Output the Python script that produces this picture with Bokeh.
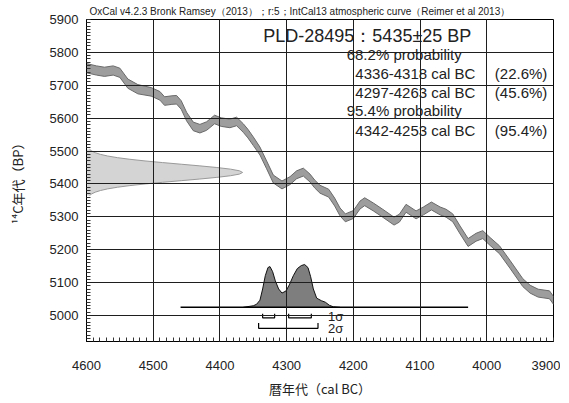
from bokeh.plotting import figure
from bokeh.models import Range1d, Label, FixedTicker, Title
from bokeh.embed import file_html
from bokeh.resources import INLINE

# ---------------- data ----------------
cal_years = [4600, 4585, 4573, 4560, 4550, 4538, 4523, 4503, 4490, 4483, 4472, 4465,
             4458, 4450, 4440, 4430, 4420, 4408, 4398, 4385, 4375, 4365, 4358, 4350,
             4340, 4330, 4320, 4307, 4295, 4285, 4275, 4265, 4258, 4250, 4237, 4228,
             4220, 4212, 4200, 4190, 4183, 4170, 4156, 4139, 4131, 4121, 4106, 4095,
             4083, 4070, 4061, 4051, 4040, 4028, 4016, 4006, 3995, 3981, 3965, 3946,
             3935, 3923, 3906, 3900]
cal_bp = [5752, 5745, 5741, 5745, 5738, 5705, 5688, 5680, 5668, 5652, 5655, 5656,
          5640, 5605, 5575, 5568, 5576, 5596, 5588, 5584, 5590, 5570, 5553, 5530,
          5500, 5458, 5415, 5397, 5410, 5428, 5436, 5418, 5400, 5384, 5372, 5345,
          5315, 5297, 5307, 5336, 5346, 5330, 5311, 5287, 5296, 5326, 5306, 5318,
          5333, 5318, 5311, 5297, 5260, 5222, 5238, 5246, 5225, 5200, 5155, 5100,
          5080, 5068, 5063, 5046]
cal_err = [14, 14, 14, 14, 14, 14, 14, 13, 13, 13, 13, 13,
           13, 13, 13, 13, 13, 13, 13, 13, 13, 13, 13, 13,
           12, 12, 12, 12, 12, 12, 12, 12, 12, 12, 12, 12,
           12, 12, 12, 12, 12, 12, 12, 12, 12, 12, 12, 12,
           12, 12, 12, 12, 12, 12, 12, 12, 12, 12, 12, 12,
           12, 12, 12, 12]

# radiocarbon date 5435 +/- 25 BP : relative density read from the left-hand profile
c14_bp = [5365, 5370, 5375, 5380, 5385, 5390, 5395, 5400, 5405, 5410, 5415, 5420,
          5425, 5430, 5435, 5440, 5445, 5450, 5455, 5460, 5465, 5470, 5475, 5480,
          5485, 5490, 5495, 5500, 5505]
c14_density = [0.02, 0.034, 0.056, 0.089, 0.135, 0.198, 0.278, 0.375, 0.487, 0.607,
               0.726, 0.835, 0.923, 0.98, 1.0, 0.98, 0.923, 0.835, 0.726, 0.607,
               0.487, 0.375, 0.278, 0.198, 0.135, 0.089, 0.056, 0.034, 0.02]

# calibrated probability distribution (relative)
post_years = [4365, 4355, 4350, 4345, 4340, 4336, 4332, 4328, 4325, 4321, 4317, 4312,
              4307, 4301, 4296, 4290, 4284, 4278, 4273, 4268, 4264, 4260, 4255, 4248,
              4242, 4236, 4230, 4220]
post_prob = [0, 1, 1.5, 3, 7, 18, 31, 39, 40, 35, 26, 18,
             14, 16, 22, 31, 38, 41, 42, 39, 30, 18, 9, 6.5,
             5, 2, 0.5, 0]

sigma1_ranges = [(4336, 4318), (4297, 4263)]
sigma2_ranges = [(4342, 4253)]

x_ticks = [4600, 4500, 4400, 4300, 4200, 4100, 4000, 3900]
y_ticks = [5000, 5100, 5200, 5300, 5400, 5500, 5600, 5700, 5800, 5900]

header = "OxCal v4.2.3 Bronk Ramsey（2013）；r:5；IntCal13 atmospheric curve（Reimer et al 2013）"

# ---------------- figure ----------------
LAT = "Liberation Sans"
JP = "Noto Sans CJK JP"

p = figure(frame_width=467, frame_height=322, output_backend="svg", toolbar_location=None,
           x_range=Range1d(4600, 3900), y_range=Range1d(4921, 5900),
           min_border_left=86, min_border_right=7, min_border_top=19,
           min_border_bottom=50, title=None)
p.background_fill_color = "white"
p.border_fill_color = "white"
p.outline_line_color = "black"
p.outline_line_width = 1

t = Title(text=header, text_font=LAT, text_font_size="10px", text_font_style="normal",
          text_color="#222222", align="left", offset=3, standoff=5)
p.add_layout(t, "above")

p.xaxis.ticker = FixedTicker(ticks=x_ticks, minor_ticks=list(range(3900, 4601, 10)))
p.yaxis.ticker = FixedTicker(ticks=y_ticks, minor_ticks=list(range(4930, 5901, 10)))
for ax in (p.xaxis, p.yaxis):
    ax.major_tick_in = 7
    ax.major_tick_out = 0
    ax.minor_tick_in = 4
    ax.minor_tick_out = 0
    ax.axis_line_color = "black"
    ax.major_tick_line_color = "black"
    ax.minor_tick_line_color = "#333333"
    ax.major_label_text_font = LAT
    ax.major_label_text_font_size = "13px"
    ax.major_label_text_color = "#222222"
    ax.axis_label_text_font = JP
    ax.axis_label_text_font_size = "13px"
    ax.axis_label_text_font_style = "normal"
    ax.axis_label_text_color = "#222222"
p.xaxis.major_label_standoff = 19
p.xaxis.axis_label_standoff = 6
p.yaxis.major_label_standoff = 8
p.yaxis.axis_label_standoff = 20
p.xaxis.axis_label = "暦年代（cal BC）"
p.yaxis.axis_label = "¹⁴C年代（BP）"

p.xgrid.ticker = FixedTicker(ticks=x_ticks)
p.ygrid.ticker = FixedTicker(ticks=y_ticks)
for g in (p.xgrid, p.ygrid):
    g.grid_line_color = "#1e1e1e"
    g.grid_line_width = 1
    g.level = "annotation"

# calibration curve band
upper = [b + e for b, e in zip(cal_bp, cal_err)]
lower = [b - e for b, e in zip(cal_bp, cal_err)]
p.varea(x=cal_years, y1=lower, y2=upper, fill_color="#9d9d9d")
p.line(cal_years, upper, line_color="#6a6a6a", line_width=1)
p.line(cal_years, lower, line_color="#6a6a6a", line_width=1)

# radiocarbon date profile on the left
peak_width = 234  # years at the peak
c14_x = [4600 - d * peak_width for d in c14_density]
p.harea(y=c14_bp, x1=[4600] * len(c14_bp), x2=c14_x, fill_color="#d4d4d4")
p.line(c14_x, c14_bp, line_color="#9a9a9a", line_width=1)

# calibrated distribution
base = 5025
max_h = 130
pmax = max(post_prob)
post_top = [base + v / pmax * max_h for v in post_prob]
p.varea(x=post_years, y1=[base] * len(post_years), y2=post_top, fill_color="#7e7e7e")
p.line(post_years, post_top, line_color="#111111", line_width=1)
p.line([4459, 4028], [base, base], line_color="black", line_width=1.6)

# sigma brackets
xs, ys = [], []
for a, b in sigma1_ranges:
    xs.append([a, a, b, b]); ys.append([5005, 4993, 4993, 5005])
for a, b in sigma2_ranges:
    xs.append([a, a, b, b]); ys.append([4977, 4961, 4961, 4977])
p.multi_line(xs, ys, line_color="black", line_width=1.2)

p.add_layout(Label(x=4253, y=4997, text="1σ", x_offset=10, text_font=LAT,
                   text_font_size="13px", text_baseline="middle", text_align="left",
                   text_color="#222222"))
p.add_layout(Label(x=4253, y=4961, text="2σ", x_offset=10, text_font=LAT,
                   text_font_size="13px", text_baseline="middle", text_align="left",
                   text_color="#222222"))

# text block
def lab(x, y, txt, size="15px"):
    p.add_layout(Label(x=x, y=y, text=txt, text_font=LAT, text_font_size=size,
                       text_baseline="middle", text_align="left", text_color="#222222"))

lab(4335, 5850, "PLD-28495：5435±25 BP", "18px")
lab(4210, 5794, "68.2% probability")
lab(4197, 5736, "4336-4318 cal BC")
lab(3988, 5736, "(22.6%)")
lab(4197, 5678, "4297-4263 cal BC")
lab(3988, 5678, "(45.6%)")
lab(4210, 5622, "95.4% probability")
lab(4197, 5562, "4342-4253 cal BC")
lab(3988, 5562, "(95.4%)")

open("out.html", "w").write(file_html(p, INLINE))
